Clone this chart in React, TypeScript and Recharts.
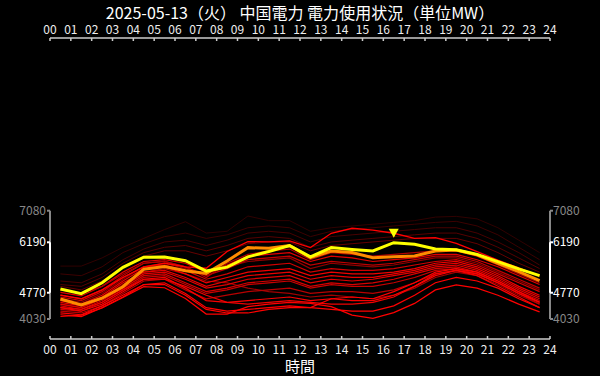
import React from "react";
import {
  LineChart,
  Line,
  XAxis,
  YAxis,
  ReferenceLine,
  ReferenceDot,
} from "recharts";

const FONT = "'Noto Sans CJK JP', 'Noto Sans', sans-serif";

const title = "2025-05-13（火） 中国電力 電力使用状況（単位MW）";
const xLabel = "時間";

const hours = [0.5, 1.5, 2.5, 3.5, 4.5, 5.5, 6.5, 7.5, 8.5, 9.5, 10.5, 11.5, 12.5, 13.5, 14.5, 15.5, 16.5, 17.5, 18.5, 19.5, 20.5, 21.5, 22.5, 23.5];
const hourTicks = [0, 1, 2, 3, 4, 5, 6, 7, 8, 9, 10, 11, 12, 13, 14, 15, 16, 17, 18, 19, 20, 21, 22, 23, 24];
const yTicks = [4030, 4770, 6190, 7080];
const yDomain = [3467, 11943];
// かっこの位置 (時)
const bracketLeft = 0.001;
const bracketRight = 24;

// 本日・前日
const today = [4875, 4745, 5050, 5485, 5770, 5775, 5670, 5380, 5490, 5780, 5930, 6100, 5780, 6040, 5990, 5945, 6180, 6135, 6000, 5980, 5850, 5645, 5440, 5250];
const yesterday = [4595, 4425, 4615, 4940, 5430, 5505, 5390, 5315, 5665, 6040, 6020, 6095, 5760, 5945, 5900, 5755, 5785, 5805, 5945, 5975, 5835, 5600, 5365, 5110];

// 過去日 (古いもの)
const dim1 = [5520, 5520, 5750, 6050, 6300, 6550, 6770, 6450, 6500, 6930, 6800, 6800, 6500, 6600, 6650, 6700, 6750, 6800, 6900, 6920, 6850, 6600, 6250, 5900];
const dim2 = [5300, 5250, 5500, 5900, 6150, 6350, 6450, 6300, 6400, 6600, 6650, 6600, 6350, 6500, 6550, 6600, 6650, 6700, 6750, 6780, 6650, 6400, 6050, 5700];
const dim3 = [5100, 5050, 5300, 5700, 6000, 6200, 6250, 6100, 6250, 6450, 6500, 6450, 6200, 6350, 6400, 6450, 6500, 6550, 6600, 6600, 6450, 6200, 5900, 5550];
const dim4 = [5000, 4950, 5200, 5600, 5900, 6050, 6100, 5950, 6100, 6300, 6350, 6300, 6050, 6200, 6250, 6300, 6350, 6400, 6450, 6450, 6300, 6050, 5750, 5450];
const dim5 = [4950, 4850, 5100, 5500, 5800, 5950, 5950, 5800, 5950, 6150, 6200, 6200, 5950, 6100, 6150, 6200, 6250, 6300, 6300, 6300, 6150, 5900, 5600, 5350];

// 過去日 (最近)
const red1 = [4700, 4600, 4850, 5200, 5500, 5600, 5500, 5460, 5930, 6210, 6200, 6230, 6040, 6445, 6585, 6535, 6445, 6300, 6320, 6160, 5925, 5690, 5470, 5240];
const red2 = [4780, 4680, 4950, 5350, 5650, 5700, 5600, 5350, 5550, 5800, 5850, 5900, 5650, 5800, 5750, 5650, 5700, 5750, 5850, 5850, 5700, 5500, 5250, 5000];
const red3 = [4700, 4600, 4850, 5250, 5600, 5650, 5500, 5250, 5450, 5700, 5750, 5800, 5550, 5650, 5600, 5550, 5600, 5700, 5800, 5800, 5650, 5400, 5150, 4900];
const red4 = [4650, 4550, 4800, 5200, 5500, 5550, 5400, 5150, 5300, 5500, 5550, 5600, 5350, 5450, 5400, 5400, 5450, 5550, 5650, 5700, 5550, 5300, 5050, 4800];
const red5 = [4550, 4450, 4700, 5100, 5450, 5500, 5300, 5050, 5200, 5350, 5400, 5450, 5250, 5350, 5300, 5300, 5350, 5450, 5600, 5650, 5500, 5250, 4950, 4700];
const red6 = [4500, 4400, 4650, 5050, 5350, 5400, 5200, 4950, 5100, 5250, 5300, 5350, 5150, 5250, 5200, 5200, 5300, 5400, 5550, 5600, 5450, 5200, 4900, 4650];
const red7 = [4450, 4350, 4600, 4950, 5300, 5350, 5150, 4900, 5000, 5150, 5200, 5250, 5050, 5150, 5100, 5150, 5250, 5350, 5500, 5550, 5400, 5150, 4850, 4600];
const red8 = [4400, 4300, 4550, 4900, 5250, 5300, 5050, 4800, 4900, 5050, 5100, 5150, 4950, 5050, 5000, 5050, 5150, 5300, 5450, 5500, 5350, 5100, 4800, 4550];
const red9 = [4350, 4250, 4450, 4800, 5150, 5200, 4900, 4550, 4500, 4550, 4600, 4650, 4550, 4600, 4550, 4550, 4700, 4950, 5250, 5400, 5300, 5050, 4750, 4500];
const red10 = [4100, 4140, 4340, 4640, 4940, 4910, 4610, 4170, 4170, 4380, 4450, 4500, 4470, 4380, 4140, 4050, 4210, 4470, 4850, 4990, 4900, 4700, 4450, 4230];
const red11 = [4200, 4150, 4400, 4700, 5000, 5050, 4750, 4350, 4250, 4300, 4350, 4400, 4350, 4300, 4250, 4250, 4400, 4700, 5050, 5200, 5100, 4900, 4600, 4350];
const red12 = [4250, 4200, 4400, 4750, 5100, 5150, 4850, 4600, 4700, 4800, 4850, 4900, 4750, 4800, 4800, 4750, 4850, 5050, 5300, 5400, 5300, 5050, 4750, 4450];
const red13 = [4300, 4250, 4500, 4850, 5200, 5250, 5000, 4750, 4850, 5000, 5050, 5100, 4900, 5000, 4950, 4950, 5050, 5200, 5400, 5450, 5300, 5050, 4750, 4500];
const red14 = [4150, 4100, 4350, 4650, 5000, 5000, 4700, 4300, 4200, 4200, 4300, 4350, 4350, 4600, 4650, 4600, 4800, 5050, 5350, 5450, 5350, 5100, 4800, 4500];
const red15 = [4850, 4750, 4950, 5300, 5600, 5650, 5500, 5200, 5600, 5850, 5950, 6000, 5700, 5900, 5850, 5800, 5850, 5900, 5950, 5950, 5800, 5550, 5300, 5050];
const red16 = [4600, 4500, 4750, 5150, 5500, 5600, 5450, 5300, 5500, 5650, 5700, 5750, 5450, 5600, 5550, 5500, 5550, 5650, 5750, 5750, 5600, 5350, 5100, 4850];
const red17 = [4450, 4350, 4600, 5000, 5350, 5450, 5300, 5100, 5050, 4900, 4800, 4750, 4650, 4700, 4650, 4600, 4700, 4900, 5200, 5350, 5250, 5000, 4700, 4450];
const red18 = [4350, 4300, 4500, 4850, 5150, 5150, 4950, 4700, 4500, 4450, 4500, 4550, 4500, 4450, 4450, 4500, 4650, 4950, 5300, 5400, 5250, 4950, 4650, 4350];

const peakHour = 16.5;
const peakValue = 6180;

const series = [
  { key: "dim1", values: dim1, color: "#300000", width: 1 },
  { key: "dim2", values: dim2, color: "#3c0000", width: 1 },
  { key: "dim3", values: dim3, color: "#480000", width: 1 },
  { key: "dim4", values: dim4, color: "#560000", width: 1 },
  { key: "dim5", values: dim5, color: "#640000", width: 1 },
  { key: "red17", values: red17, color: "#a00000", width: 1.2 },
  { key: "red16", values: red16, color: "#900000", width: 1.2 },
  { key: "red12", values: red12, color: "#b80000", width: 1.2 },
  { key: "red13", values: red13, color: "#c80000", width: 1.2 },
  { key: "red8", values: red8, color: "#d80000", width: 1.2 },
  { key: "red7", values: red7, color: "#e00000", width: 1.2 },
  { key: "red6", values: red6, color: "#e80000", width: 1.2 },
  { key: "red5", values: red5, color: "#f00000", width: 1.2 },
  { key: "red4", values: red4, color: "#d00000", width: 1.2 },
  { key: "red3", values: red3, color: "#c00000", width: 1.2 },
  { key: "red2", values: red2, color: "#e00000", width: 1.2 },
  { key: "red15", values: red15, color: "#b00000", width: 1.2 },
  { key: "red18", values: red18, color: "#f00000", width: 1.2 },
  { key: "red14", values: red14, color: "#ff0000", width: 1.2 },
  { key: "red11", values: red11, color: "#ff0000", width: 1.2 },
  { key: "red9", values: red9, color: "#f80000", width: 1.2 },
  { key: "red10", values: red10, color: "#ff0000", width: 1.2 },
  { key: "red1", values: red1, color: "#ff0000", width: 1.3 },
  { key: "yesterday", values: yesterday, color: "#ff8c00", width: 3 },
  { key: "today", values: today, color: "#ffff00", width: 3 },
];

const data = hours.map((h, i) => {
  const row: Record<string, number> = { hour: h };
  series.forEach((s) => {
    row[s.key] = s.values[i];
  });
  return row;
});

const pad2 = (v: number) => String(v).padStart(2, "0");

const TopTick = (props: any) => {
  const { x, y, payload } = props;
  return (
    <g>
      <line x1={x} y1={y} x2={x} y2={y + 3} stroke="#cccccc" strokeWidth={1.5} />
      <text x={x} y={y - 4} textAnchor="middle" fill="#eeeeee" fontSize={12} fontFamily={FONT}>
        {pad2(payload.value)}
      </text>
    </g>
  );
};

const BottomTick = (props: any) => {
  const { x, y, payload } = props;
  return (
    <g>
      <line x1={x} y1={y - 3} x2={x} y2={y} stroke="#cccccc" strokeWidth={1.5} />
      <text x={x} y={y + 15} textAnchor="middle" fill="#eeeeee" fontSize={12} fontFamily={FONT}>
        {pad2(payload.value)}
      </text>
    </g>
  );
};

const tickColor = (v: number) => (v === 4770 || v === 6190 ? "#ffffff" : "#888888");

const LeftTick = (props: any) => {
  const { x, y, payload } = props;
  const c = tickColor(payload.value);
  return (
    <g>
      <line x1={x - 3} y1={y} x2={x} y2={y} stroke={c} strokeWidth={2} />
      <text x={x - 4} y={y + 4} textAnchor="end" fill={c} fontSize={12} fontFamily={FONT}>
        {payload.value}
      </text>
    </g>
  );
};

const RightTick = (props: any) => {
  const { x, y, payload } = props;
  const c = tickColor(payload.value);
  return (
    <g>
      <line x1={x} y1={y} x2={x + 3} y2={y} stroke={c} strokeWidth={2} />
      <text x={x + 3} y={y + 4} textAnchor="start" fill={c} fontSize={12} fontFamily={FONT}>
        {payload.value}
      </text>
    </g>
  );
};

const PeakMarker = (props: any) => {
  const { cx, cy } = props;
  return <polygon points={`${cx - 5},${cy - 14} ${cx + 5},${cy - 14} ${cx},${cy - 5}`} fill="#ffff00" />;
};

export default function App() {
  return (
    <div style={{ position: "relative", width: 600, height: 376, background: "#000", overflow: "hidden" }}>
      <style>{"body{margin:0;background:#000}"}</style>
      <div
        style={{
          position: "absolute",
          top: 4,
          left: 0,
          width: 600,
          textAlign: "center",
          color: "#ffffff",
          fontSize: 16,
          lineHeight: "16px",
          fontFamily: FONT,
        }}
      >
        {title}
      </div>
      <LineChart width={600} height={376} data={data} margin={{ top: 18, right: 10, bottom: 17, left: 10 }}>
        <XAxis
          xAxisId="bottom"
          dataKey="hour"
          type="number"
          domain={[0, 24]}
          ticks={hourTicks}
          interval={0}
          orientation="bottom"
          height={20}
          tickSize={0}
          tickMargin={0}
          tick={<BottomTick />}
          axisLine={{ stroke: "#cccccc", strokeWidth: 1.5 }}
        />
        <XAxis
          xAxisId="top"
          dataKey="hour"
          type="number"
          domain={[0, 24]}
          ticks={hourTicks}
          interval={0}
          orientation="top"
          height={20}
          tickSize={0}
          tickMargin={0}
          tick={<TopTick />}
          axisLine={{ stroke: "#cccccc", strokeWidth: 1.5 }}
        />
        <YAxis
          yAxisId="left"
          orientation="left"
          type="number"
          domain={yDomain}
          allowDataOverflow
          ticks={yTicks}
          interval={0}
          width={40}
          tickSize={0}
          tickMargin={0}
          axisLine={false}
          tick={<LeftTick />}
        />
        <YAxis
          yAxisId="right"
          orientation="right"
          type="number"
          domain={yDomain}
          allowDataOverflow
          ticks={yTicks}
          interval={0}
          width={40}
          tickSize={0}
          tickMargin={0}
          axisLine={false}
          tick={<RightTick />}
        />
        {/* 右軸にも系列をつなぐ (表示なし) */}
        <Line
          xAxisId="top"
          yAxisId="right"
          dataKey="today"
          stroke="none"
          dot={false}
          activeDot={false}
          isAnimationActive={false}
        />
        {series.map((s) => (
          <Line
            key={s.key}
            xAxisId="bottom"
            yAxisId="left"
            dataKey={s.key}
            type="linear"
            stroke={s.color}
            strokeWidth={s.width}
            dot={false}
            activeDot={false}
            isAnimationActive={false}
          />
        ))}
        {/* 軸のかっこ */}
        <ReferenceLine xAxisId="bottom" yAxisId="left" ifOverflow="visible" segment={[{ x: bracketLeft, y: 4030 }, { x: bracketLeft, y: 7080 }]} stroke="#888888" strokeWidth={2} />
        <ReferenceLine xAxisId="bottom" yAxisId="left" ifOverflow="visible" segment={[{ x: bracketLeft, y: 4770 }, { x: bracketLeft, y: 6190 }]} stroke="#ffffff" strokeWidth={2} />
        <ReferenceLine xAxisId="bottom" yAxisId="left" ifOverflow="visible" segment={[{ x: bracketRight, y: 4030 }, { x: bracketRight, y: 7080 }]} stroke="#888888" strokeWidth={2} />
        <ReferenceLine xAxisId="bottom" yAxisId="left" ifOverflow="visible" segment={[{ x: bracketRight, y: 4770 }, { x: bracketRight, y: 6190 }]} stroke="#ffffff" strokeWidth={2} />
        <ReferenceDot xAxisId="bottom" yAxisId="left" x={peakHour} y={peakValue} shape={<PeakMarker />} />
      </LineChart>
      <div
        style={{
          position: "absolute",
          top: 357,
          left: 0,
          width: 600,
          textAlign: "center",
          color: "#ffffff",
          fontSize: 15,
          lineHeight: "18px",
          fontFamily: FONT,
        }}
      >
        {xLabel}
      </div>
    </div>
  );
}
